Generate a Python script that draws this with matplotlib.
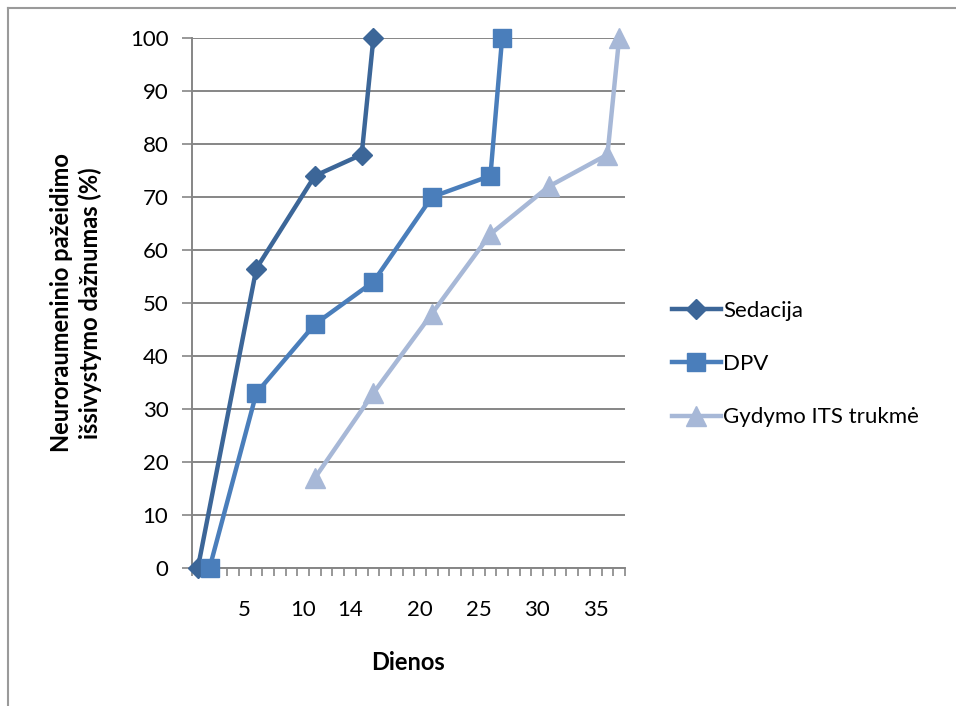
import matplotlib
matplotlib.use("Agg")
import matplotlib.pyplot as plt
from matplotlib.lines import Line2D

plt.rcParams['font.family'] = ['Lato', 'DejaVu Sans']

# Data (day category, % value)
sed_days = [1, 6, 11, 15, 16]
sed_vals = [0, 56.5, 74, 78, 100]
dpv_days = [2, 6, 11, 16, 21, 26, 27]
dpv_vals = [0, 33, 46, 54, 70, 74, 100]
its_days = [11, 16, 21, 26, 31, 36, 37]
its_vals = [17, 33, 48, 63, 72, 78, 100]

n_categories = 37
x_tick_labels = [5, 10, 14, 20, 25, 30, 35]
y_ticks = list(range(0, 101, 10))

series_names = ["Sedacija", "DPV", "Gydymo ITS trukmė"]
colors = ["#3C6698", "#4A7EBB", "#A7B8D7"]

W, H = 956, 706
fig = plt.figure(figsize=(W / 100, H / 100), dpi=100)
ax = fig.add_axes([192 / W, 1 - 568 / H, (625 - 192) / W, (568 - 38) / H])

gray = "#868686"
for v in y_ticks:
    ax.axhline(v, color=gray, lw=1.4, zorder=0)

ax.plot(sed_days, sed_vals, color=colors[0], lw=3.2, marker='D', markersize=10,
        clip_on=False, zorder=3, label=series_names[0])
ax.plot(dpv_days, dpv_vals, color=colors[1], lw=3.2, marker='s', markersize=13,
        clip_on=False, zorder=4, label=series_names[1])
ax.plot(its_days, its_vals, color=colors[2], lw=3.2, marker='^', markersize=14,
        clip_on=False, zorder=5, label=series_names[2])

ax.set_xlim(0.5, n_categories + 0.5)
ax.set_ylim(0, 100)

ax.set_yticks(y_ticks)
ax.set_xticks(x_tick_labels)
ax.set_xticklabels([str(v) for v in x_tick_labels])
ax.set_xticks([i + 0.5 for i in range(0, n_categories + 1)], minor=True)
ax.tick_params(axis='x', which='major', length=0, pad=23, labelsize=16)
ax.tick_params(axis='x', which='minor', length=6, color=gray, width=1.2, direction='out')
ax.tick_params(axis='y', which='major', length=7, color=gray, width=1.2, direction='out',
               pad=10, labelsize=16)

for s in ['top', 'right']:
    ax.spines[s].set_visible(False)
for s in ['left', 'bottom']:
    ax.spines[s].set_color(gray)
    ax.spines[s].set_linewidth(1.4)

fig.text(76 / W, 1 - 303 / H, "Neuroraumeninio pažeidimo\nišsivystymo dažnumas (%)",
         rotation=90, ha='center', va='center', fontsize=17, fontweight='bold',
         linespacing=1.3)
fig.text(408 / W, 1 - 662 / H, "Dienos", ha='center', va='center', fontsize=17,
         fontweight='bold')

handles = [
    Line2D([0], [0], color=colors[0], lw=3.2, marker='D', markersize=10),
    Line2D([0], [0], color=colors[1], lw=3.2, marker='s', markersize=13),
    Line2D([0], [0], color=colors[2], lw=3.2, marker='^', markersize=14),
]
fig.legend(handles, series_names, loc='center left',
           bbox_to_anchor=(652 / W, 1 - 364 / H), frameon=False, fontsize=16,
           handlelength=2.2, handletextpad=0.1, labelspacing=1.5)

# outer chart border (top and left visible)
fig.add_artist(Line2D([8 / W, 1], [1 - 8 / H, 1 - 8 / H], color="#9a9a9a", lw=1.5,
                      transform=fig.transFigure))
fig.add_artist(Line2D([8 / W, 8 / W], [0, 1 - 8 / H], color="#9a9a9a", lw=1.5,
                      transform=fig.transFigure))

fig.savefig("out.png", dpi=100)
